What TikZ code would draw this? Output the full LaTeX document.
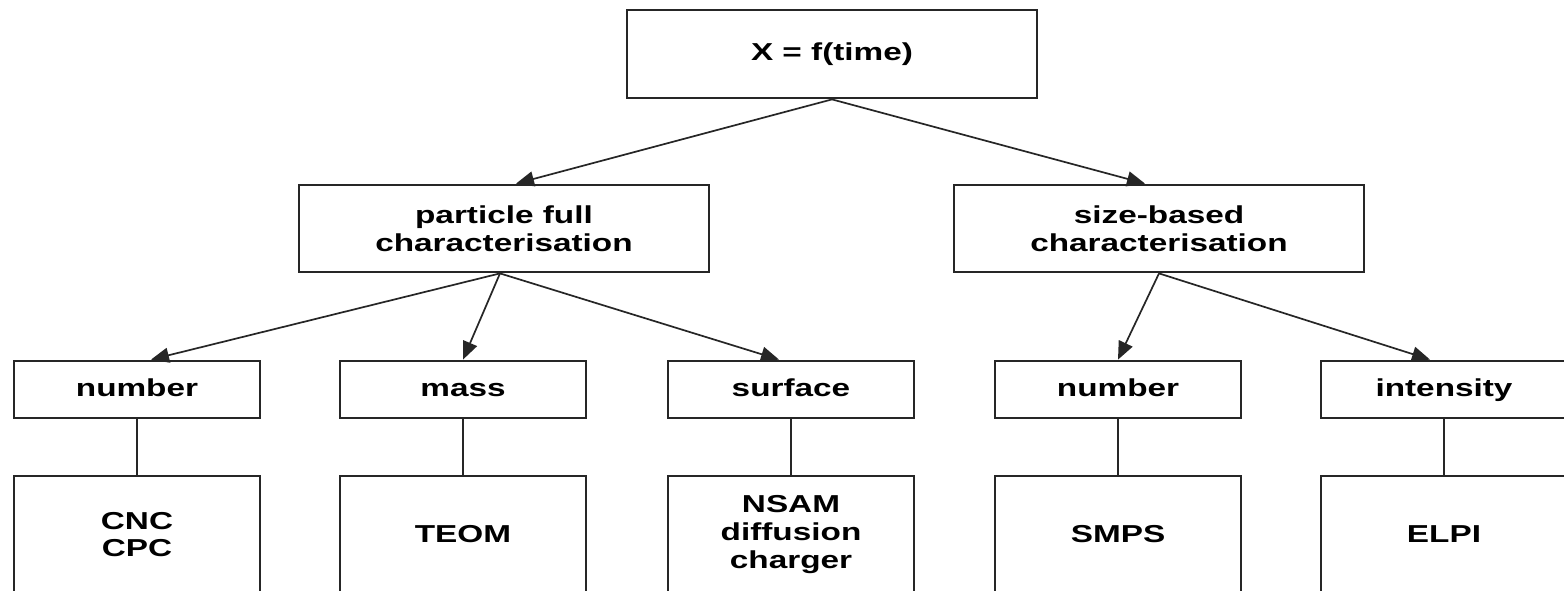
\documentclass[tikz,border=0pt]{standalone}
\usepackage{fontspec}
\usetikzlibrary{arrows.meta}
\newfontfamily\lblfont{Liberation Sans Bold}[FakeStretch=1.36]
\definecolor{edge}{HTML}{262626}
\tikzset{
  box/.style={draw=edge, line width=2.8pt, fill=white, inner sep=0pt,
    align=center, font=\lblfont\fontsize{24.5}{27.7}\selectfont, text=black},
  wide/.style={box, minimum width=410pt, minimum height=87pt},
  leaf/.style={box, minimum width=246pt, minimum height=57pt,
    text height=18.5pt, text depth=4.5pt},
  tool/.style={box, minimum width=246pt, minimum height=117pt},
  link/.style={draw=edge, line width=1.7pt,
    -{Triangle[length=18pt, width=15pt]}},
  stem/.style={draw=edge, line width=1.7pt}
}
\begin{document}
\begin{tikzpicture}[x=1pt, y=-1pt]
\clip (0,0) rectangle (1564,591);
\fill[white] (0,0) rectangle (1564,591);

% root
\node[wide, minimum height=88pt] (root) at (832,54) {X = f(time)};

% second level
\node[wide] (full) at (504,228.5) {particle full\\characterisation};
\node[wide] (size) at (1159,228.5) {size-based\\characterisation};

% measured quantities
\node[leaf] (num1) at (137,389.5) {number};
\node[leaf] (mass) at (463,389.5) {mass};
\node[leaf] (surf) at (791,389.5) {surface};
\node[leaf] (num2) at (1118,389.5) {number};
\node[leaf] (inte) at (1444,389.5) {intensity};

% instruments
\node[tool] (cpc)  at (137,534.5) {CNC\\CPC};
\node[tool] (teom) at (463,534.5) {TEOM};
\node[tool] (nsam) at (791,534.5) {NSAM\\diffusion\\charger};
\node[tool] (smps) at (1118,534.5) {SMPS};
\node[tool] (elpi) at (1444,534.5) {ELPI};

% arrows
\draw[link] (root.south) -- ([xshift=12pt]full.north);
\draw[link] (root.south) -- ([xshift=-14pt]size.north);
\draw[link] ([xshift=-4pt]full.south) -- ([xshift=14pt]num1.north);
\draw[link] ([xshift=-4pt]full.south) -- (mass.north);
\draw[link] ([xshift=-4pt]full.south) -- ([xshift=-12pt]surf.north);
\draw[link] (size.south) -- (num2.north);
\draw[link] (size.south) -- ([xshift=-14pt]inte.north);

% stems
\draw[stem] (num1.south) -- (cpc.north);
\draw[stem] (mass.south) -- (teom.north);
\draw[stem] (surf.south) -- (nsam.north);
\draw[stem] (num2.south) -- (smps.north);
\draw[stem] (inte.south) -- (elpi.north);
\end{tikzpicture}
\end{document}
